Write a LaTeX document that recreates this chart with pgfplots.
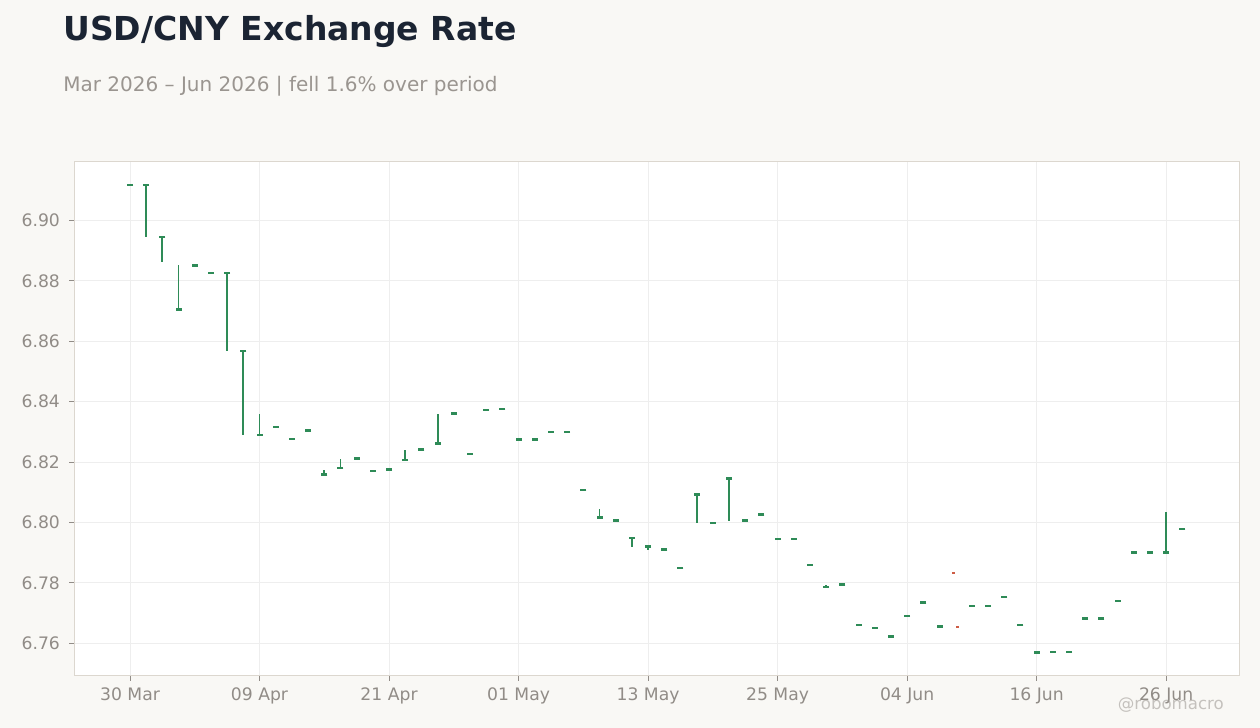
\documentclass[border=0pt]{standalone}
\usepackage{pgfplots}
\pgfplotsset{compat=1.18}
\usepackage{pgfplotstable}
\usepackage{fontspec}
\setmainfont{DejaVu Sans}

\definecolor{bg}{RGB}{249,248,245}
\definecolor{frame}{RGB}{220,215,207}
\definecolor{gridc}{RGB}{238,238,238}
\definecolor{titlec}{RGB}{27,36,51}
\definecolor{subc}{RGB}{154,149,144}
\definecolor{tickc}{RGB}{145,140,135}
\definecolor{up}{RGB}{46,139,87}
\definecolor{down}{RGB}{205,92,69}

% index (trading day from 30 Mar), body, low, high
\pgfplotstableread{
i  b      l      h
0  6.9117 6.9117 6.9117
1  6.9117 6.8945 6.9117
2  6.8945 6.8862 6.8945
3  6.8705 6.8705 6.8851
4  6.8851 6.8851 6.8851
5  6.8825 6.8825 6.8825
6  6.8825 6.8567 6.8825
7  6.8567 6.8289 6.8567
8  6.8289 6.8289 6.8358
9  6.8316 6.8316 6.8316
10 6.8277 6.8277 6.8277
11 6.8304 6.8304 6.8304
12 6.8158 6.8158 6.8174
13 6.8180 6.8180 6.8210
14 6.8211 6.8211 6.8211
15 6.8171 6.8171 6.8171
16 6.8175 6.8175 6.8175
17 6.8207 6.8207 6.8240
18 6.8241 6.8241 6.8241
19 6.8261 6.8261 6.8359
20 6.8360 6.8360 6.8360
21 6.8227 6.8227 6.8227
22 6.8373 6.8373 6.8373
23 6.8376 6.8376 6.8376
24 6.8274 6.8274 6.8274
25 6.8274 6.8274 6.8274
26 6.8300 6.8300 6.8300
27 6.8300 6.8300 6.8300
28 6.8108 6.8108 6.8108
29 6.8016 6.8016 6.8044
30 6.8006 6.8006 6.8006
31 6.7949 6.7920 6.7949
32 6.7920 6.7910 6.7920
33 6.7910 6.7910 6.7910
34 6.7850 6.7850 6.7850
35 6.8092 6.7999 6.8092
36 6.7999 6.7999 6.7999
37 6.8145 6.8006 6.8145
38 6.8006 6.8006 6.8006
39 6.8026 6.8026 6.8026
40 6.7946 6.7946 6.7946
41 6.7946 6.7946 6.7946
42 6.7860 6.7860 6.7860
43 6.7787 6.7787 6.7792
44 6.7794 6.7794 6.7794
45 6.7661 6.7661 6.7661
46 6.7651 6.7651 6.7651
47 6.7622 6.7622 6.7622
48 6.7691 6.7691 6.7691
49 6.7735 6.7735 6.7735
50 6.7655 6.7655 6.7655
52 6.7724 6.7724 6.7724
53 6.7724 6.7724 6.7724
54 6.7754 6.7754 6.7754
55 6.7661 6.7661 6.7661
56 6.7569 6.7569 6.7569
57 6.7572 6.7572 6.7572
58 6.7572 6.7572 6.7572
59 6.7682 6.7682 6.7682
60 6.7682 6.7682 6.7682
61 6.7741 6.7741 6.7741
62 6.7900 6.7900 6.7900
63 6.7900 6.7900 6.7900
64 6.7900 6.7900 6.8034
65 6.7979 6.7979 6.7979
}\candles

\begin{document}
\begin{tikzpicture}
\fill[bg] (0,0) rectangle (630pt,364pt);
\node[anchor=base west, text=titlec, font=\fontsize{16.5}{19}\selectfont\bfseries, inner sep=0pt]
  at (31.5pt,343.5pt) {USD/CNY Exchange Rate};
\node[anchor=base west, text=subc, font=\fontsize{10}{12}\selectfont, inner sep=0pt]
  at (31.5pt,318.2pt) {Mar 2026 – Jun 2026 | fell 1.6\% over period};
\begin{axis}[
    at={(37pt,26pt)}, anchor=south west,
    scale only axis,
    width=582.5pt, height=257pt,
    xmin=-3.46, xmax=68.5,
    ymin=6.7492, ymax=6.9193,
    axis background/.style={fill=white},
    axis line style={frame, line width=0.5pt},
    grid=major,
    major grid style={gridc, line width=0.5pt},
    tick pos=lower,
    tick align=outside,
    major tick length=2.5pt,
    tick style={tickc, line width=0.5pt},
    xtick={0,8,...,64},
    xticklabels={30 Mar,09 Apr,21 Apr,01 May,13 May,25 May,04 Jun,16 Jun,26 Jun},
    ytick={6.76,6.78,...,6.90},
    yticklabel style={/pgf/number format/fixed, /pgf/number format/fixed zerofill,
        /pgf/number format/precision=2, xshift=-1pt},
    /pgf/number format/assume math mode=true,
    ticklabel style={font=\fontsize{8.6}{10}\selectfont, text=tickc},
    clip=false,
]
\addplot[only marks, color=up, mark=-, mark size=1.5pt, mark options={line width=1.25pt},
    error bars/.cd, y dir=both, y explicit, error mark=none,
    error bar style={line width=0.9pt, up}]
  table[x=i, y=b, y error plus expr=\thisrow{h}-\thisrow{b}, y error minus expr=\thisrow{b}-\thisrow{l}] {\candles};
\addplot[only marks, color=down, mark=-, mark size=0.8pt, mark options={line width=1pt}]
  coordinates {(50.85,6.7834) (51.1,6.7655)};
\end{axis}
\node[anchor=base west, text=subc, opacity=0.55, font=\fontsize{8.3}{10}\selectfont, inner sep=0pt]
  at (558.7pt,9pt) {@robomacro};
\pgfresetboundingbox
\path[use as bounding box] (0,0) rectangle (630pt,364pt);
\end{tikzpicture}
\end{document}
